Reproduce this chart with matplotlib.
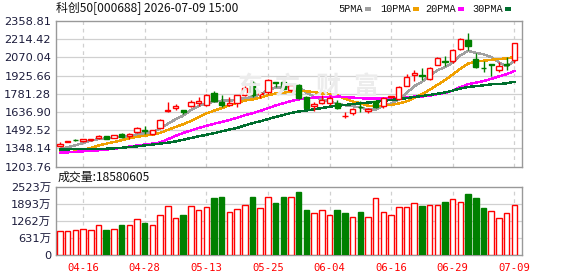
import matplotlib
matplotlib.use("Agg")
import matplotlib.pyplot as plt
from matplotlib.patches import Rectangle
import numpy as np

# ---------------- data ----------------
opens = [1364,1399,1416,1406,1412,1433,1444,1430,1465,1444,1481,1490,1462,1513,1641,1668,1652,1686,1708,1692,
         1790,1719,1695,1708,1774,1868,1783,1798,1873,1876,1815,1852,1753,1681,1705,1710,1710,1603,1630,1680,
         1644,1726,1686,1755,1740,1841,1932,1932,1900,2012,2040,2044,2137,2207,2060,1987,2015,1969,2015,2052]
closes = [1385,1403,1411,1422,1422,1449,1425,1454,1441,1460,1510,1487,1494,1572,1651,1684,1636,1718,1726,1774,
          1726,1692,1710,1772,1830,1772,1790,1894,1870,1817,1849,1750,1668,1697,1732,1745,1670,1607,1660,1677,
          1660,1673,1748,1760,1838,1911,1948,1919,1988,2068,2036,2127,2212,2161,1993,1983,2009,2004,2012,2188]
highs = [1398,1406,1422,1426,1426,1457,1447,1457,1473,1473,1518,1526,1494,1580,1718,1697,1652,1732,1753,1780,
         1804,1772,1753,1772,1841,1884,1798,1900,1874,1884,1857,1857,1766,1713,1772,1766,1732,1633,1668,1724,
         1668,1734,1753,1766,1846,1940,1967,1985,1994,2073,2081,2140,2220,2265,2108,2041,2017,2033,2073,2188]
lows = [1361,1396,1405,1402,1410,1422,1422,1428,1430,1425,1473,1465,1452,1508,1633,1652,1622,1673,1687,1687,
        1718,1673,1681,1679,1766,1758,1750,1780,1833,1809,1798,1740,1660,1641,1700,1692,1660,1588,1612,1633,
        1630,1665,1668,1745,1740,1841,1886,1894,1892,2007,2001,2028,2127,2127,1985,1953,1921,1953,1972,2025]

ma5 = [1342,1358,1372,1390,1409,1421,1426,1434,1438,1446,1458,1470,1478,1505,1543,1578,1607,1652,1683,1708,
       1716,1727,1726,1735,1746,1755,1775,1812,1831,1829,1844,1836,1791,1756,1739,1718,1702,1690,1683,1672,
       1655,1655,1684,1704,1736,1786,1841,1875,1921,1967,1992,2028,2086,2121,2106,2095,2072,2030,2000,2039]
ma10 = [1316,1318,1322,1334,1352,1370,1385,1398,1412,1427,1440,1448,1456,1471,1494,1518,1539,1565,1594,1625,
        1647,1667,1689,1709,1727,1736,1751,1769,1783,1787,1800,1805,1801,1794,1784,1781,1769,1741,1720,1706,
        1687,1679,1687,1693,1704,1720,1748,1779,1812,1851,1889,1934,1981,2021,2036,2044,2050,2058,2061,2073]
ma20 = [1313,1316,1320,1324,1328,1332,1338,1345,1352,1362,1370,1378,1386,1395,1420,1447,1470,1490,1510,1526,
        1543,1558,1573,1590,1611,1627,1645,1667,1688,1706,1723,1736,1745,1751,1755,1758,1760,1755,1751,1746,
        1743,1742,1744,1744,1744,1751,1759,1760,1766,1778,1788,1807,1834,1857,1870,1882,1899,1919,1936,1962]
ma30 = [1340,1340,1341,1342,1343,1344,1345,1348,1352,1358,1364,1371,1378,1385,1393,1403,1416,1430,1443,1455,
        1468,1483,1497,1510,1530,1548,1563,1580,1597,1613,1629,1640,1649,1658,1668,1678,1686,1692,1699,1706,
        1711,1717,1726,1732,1738,1746,1756,1763,1772,1781,1792,1806,1823,1836,1841,1848,1856,1859,1864,1876]

# volume in 万 (10k)
volume = [906,906,943,980,943,1127,943,980,1127,1127,1335,1200,1127,1494,1825,1384,1494,1825,1678,1788,
          2119,2156,1604,1715,1862,2156,1751,2156,1935,2156,2156,2339,1678,1568,1666,1482,1678,1568,1408,1604,
          1408,2107,1592,1482,1776,1776,1923,1825,1849,1849,1972,2070,1960,2266,2119,1751,1629,1372,1555,1858.0605]
vol_up = [1,1,1,1,1,1,0,1,0,1,1,0,1,1,1,1,0,1,1,1,0,0,1,1,1,0,1,1,0,0,1,
          0,0,1,1,1,0,0,1,0,1,1,1,1,1,1,1,0,1,1,0,1,1,0,0,0,1,1,1,1]

date_tick_idx = [3, 11, 19, 27, 35, 43, 51, 59]
date_tick_labels = ["04-16", "04-28", "05-13", "05-25", "06-04", "06-16", "06-29", "07-09"]

price_ticks = [1203.76, 1348.14, 1492.52, 1636.90, 1781.28, 1925.66, 2070.04, 2214.42, 2358.81]
vol_ticks = [0, 631, 1262, 1893, 2523]
vol_tick_labels = ["0", "631万", "1262万", "1893万", "2523万"]

title_text = "科创50[000688] 2026-07-09 15:00"
ma_names = ["5PMA", "10PMA", "20PMA", "30PMA"]
watermark = "东方财富"

# ---------------- style ----------------
RED = "#ff0000"
GREEN = "#008000"
MA_COLORS = ["#a0a0a0", "#f0a000", "#ff00ff", "#006e2e"]
GRID = "#d0d0d0"
FRAME = "#999999"
LABEL = "#1c1c3c"

W, H = 578, 276
fig = plt.figure(figsize=(W / 100, H / 100), dpi=100)
fig.patch.set_facecolor("white")

def fx(px):
    return px / W
def fy(py):
    return 1 - py / H

ax = fig.add_axes([fx(56), fy(166.5), fx(522) - fx(56), fy(21) - fy(166.5)])
axv = fig.add_axes([fx(56), fy(255), fx(522) - fx(56), fy(187) - fy(255)])

n = len(closes)
x = np.arange(n)
o = np.array(opens, float)
c = np.array(closes, float)
h = np.array(highs, float)
l = np.array(lows, float)
up = c >= o

XL = (-0.52, 60.0)

for a in (ax, axv):
    a.set_xlim(*XL)
    for s in a.spines.values():
        s.set_color(FRAME)
        s.set_linewidth(1.0)
    a.tick_params(length=0)
    for xi in date_tick_idx:
        a.axvline(xi, color=GRID, lw=0.9, ls=(0, (3, 3)), zorder=0)

# watermark (faint, behind everything)
for ch, cx in zip(watermark, [250, 287, 328, 366]):
    fig.text(fx(cx), fy(87), ch, fontsize=18, fontweight="bold", color="#ececec",
             ha="center", va="center", family=["Noto Sans CJK SC"], zorder=0.5)
ax.patch.set_alpha(0)
axv.patch.set_alpha(0)

# price grid
ax.set_ylim(price_ticks[0], price_ticks[-1])
ax.set_yticks(price_ticks)
ax.set_yticklabels([f"{v:.2f}" for v in price_ticks], fontsize=8.2, color=LABEL)
for v in price_ticks[1:-1]:
    ax.axhline(v, color=GRID, lw=0.9, zorder=0)
ax.set_xticks([])

# moving averages
for arr, col in zip([ma5, ma10, ma20, ma30], MA_COLORS):
    ax.plot(x, arr, color=col, lw=1.0, zorder=2, antialiased=False)

# candles
bw = 0.7
for i in range(n):
    col = RED if up[i] else GREEN
    top = max(o[i], c[i]); bot = min(o[i], c[i])
    ax.vlines(x[i], top, h[i], color=col, lw=1.0, zorder=3)
    ax.vlines(x[i], l[i], bot, color=col, lw=1.0, zorder=3)
    hgt = max(top - bot, 0.5)
    face = "white" if up[i] else col
    ax.add_patch(Rectangle((x[i] - bw / 2, bot), bw, hgt, facecolor=face,
                           edgecolor=col, lw=1.0, zorder=4))

# volume
axv.set_ylim(0, vol_ticks[-1])
axv.set_yticks(vol_ticks)
axv.set_yticklabels(vol_tick_labels, fontsize=8.2, color=LABEL,
                    family=["DejaVu Sans", "Noto Sans CJK SC"])
for v in vol_ticks[1:-1]:
    axv.axhline(v, color=GRID, lw=0.9, zorder=0)
vb = 0.72
for i in range(n):
    if vol_up[i]:
        axv.bar(x[i], volume[i], width=vb, facecolor="white", edgecolor=RED, lw=1.0, zorder=3)
    else:
        axv.bar(x[i], volume[i], width=vb, facecolor=GREEN, edgecolor=GREEN, lw=1.0, zorder=3)
axv.set_xticks(date_tick_idx)
axv.set_xticklabels(date_tick_labels, fontsize=7.6, color=RED, family="DejaVu Sans Mono")
axv.tick_params(axis="x", pad=6)

# texts
fig.text(fx(56), fy(8.7), title_text, fontsize=8.6, color="#111111", va="center", ha="left",
         family=["Noto Sans CJK SC", "DejaVu Sans"])
fig.text(fx(58), fy(177.5), f"成交量:{volume[-1] * 10000:.0f}", fontsize=8.6, color="#111111",
         va="center", ha="left", family=["Noto Sans CJK SC", "DejaVu Sans"])

leg_x = [338, 380, 425, 472]
sq_x = [365, 412.5, 458, 505]
for name, col, lx, sx in zip(ma_names, MA_COLORS, leg_x, sq_x):
    fig.text(fx(lx), fy(9), name, fontsize=7.4, color="#111111", va="center", ha="left",
             family="Liberation Mono")
    fig.patches.append(Rectangle((fx(sx), fy(10.5)), fx(6), 3 / H, transform=fig.transFigure,
                                 facecolor=col, edgecolor="none"))

fig.savefig("out.png", dpi=100, facecolor="white")
